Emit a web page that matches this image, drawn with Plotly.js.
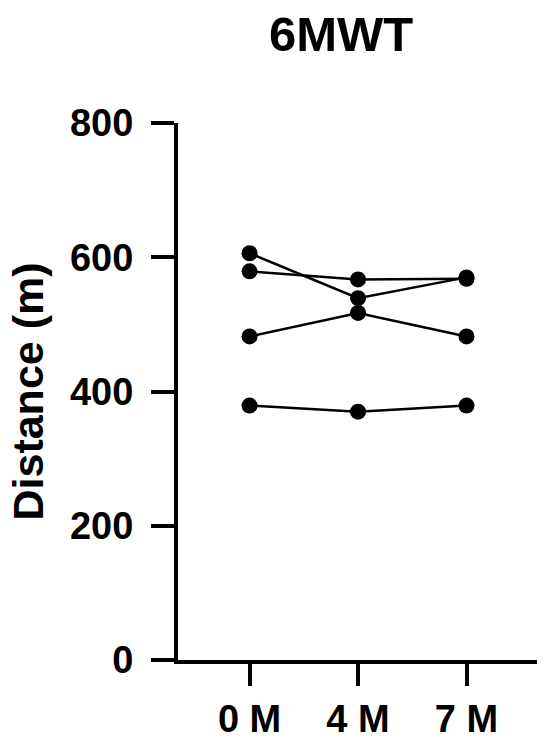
<!DOCTYPE html>
<html>
<head>
<meta charset="utf-8">
<script src="https://cdn.plot.ly/plotly-3.0.1.min.js"></script>
<style>
  html, body { margin: 0; padding: 0; background: #fff; }
  #plot { width: 550px; height: 740px; }
</style>
</head>
<body>
<div id="plot"></div>
<script>
"use strict";

// Timepoints and per-subject 6MWT distance (m)
const timepoints = ["0 M", "4 M", "7 M"];
const subject1 = [606, 539, 570];
const subject2 = [579, 567, 568];
const subject3 = [482, 517, 482];
const subject4 = [379, 370, 379];
const subjects = [subject1, subject2, subject3, subject4];

const yTicks = [0, 200, 400, 600, 800];

const FONT = "Liberation Sans, Arial, Helvetica, sans-serif";

const traces = subjects.map(vals => ({
    type: "scatter", mode: "lines+markers",
    x: timepoints, y: vals,
    line: { color: "#000", width: 2.5 },
    marker: { color: "#000", size: 16 },
    showlegend: false,
    cliponaxis: false,
}));

const layout = {
    width: 550, height: 740,
    margin: { l: 178, r: 13, t: 123, b: 80 },
    paper_bgcolor: "#fff", plot_bgcolor: "#fff",
    font: { family: FONT, color: "#000" },
    title: {
        text: "6MWT",
        font: { size: 49, weight: 700, family: FONT },
        xref: "container", x: 341 / 550, xanchor: "center",
        yref: "container", y: 1 - 34 / 740, yanchor: "middle",
    },
    xaxis: {
        type: "category",
        range: [-0.66, 2.65],
        showline: true, linecolor: "#000", linewidth: 4,
        ticks: "outside", ticklen: 22, tickwidth: 4, tickcolor: "#000",
        ticklabelstandoff: 0,
        tickfont: { size: 38, weight: 700, family: FONT },
        showgrid: false, zeroline: false,
    },
    yaxis: {
        range: [0, 800],
        tickvals: yTicks,
        showline: true, linecolor: "#000", linewidth: 4,
        ticks: "outside", ticklen: 23, tickwidth: 4, tickcolor: "#000",
        ticklabelstandoff: 10,
        tickfont: { size: 38, weight: 700, family: FONT },
        title: {
            text: "Distance (m)",
            font: { size: 43, weight: 700, family: FONT },
            standoff: 14,
        },
        showgrid: false, zeroline: false,
    },
};

Plotly.newPlot("plot", traces, layout, { displayModeBar: false, staticPlot: true });
</script>
</body>
</html>
